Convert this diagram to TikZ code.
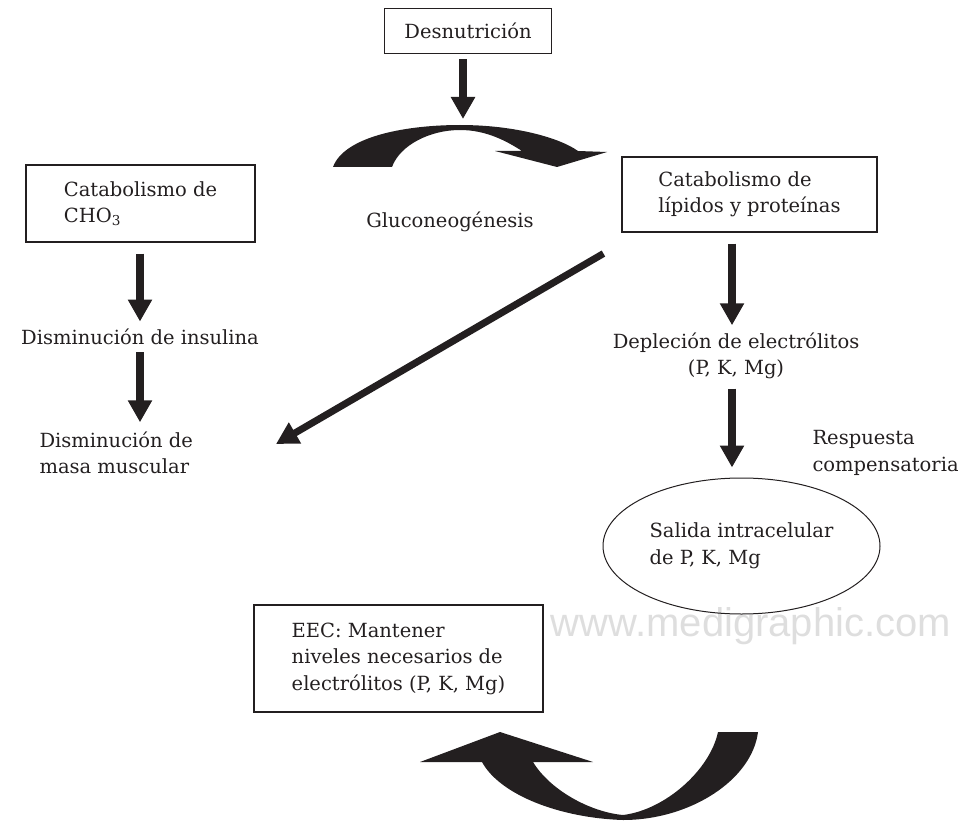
\documentclass[tikz,border=0pt]{standalone}
\usepackage{fontspec}
\setmainfont{DejaVu Serif}
\setsansfont{Liberation Sans}
\usetikzlibrary{positioning,arrows.meta,shapes.geometric}
\definecolor{myblack}{RGB}{35,31,32}
\definecolor{wmgray}{gray}{0.87}

\begin{document}
\begin{tikzpicture}[x=1pt,y=-1pt,
  box/.style={draw=myblack,line width=1.1pt,rectangle,inner sep=0pt},
  txt/.style={font=\fontsize{19.5}{26.5}\selectfont,align=left,text=myblack},
  fat/.style={myblack,line width=8pt,-{Triangle[length=22pt,width=23pt]}}]

\useasboundingbox (0,0) rectangle (958,821);

% watermark
\node[font=\sffamily\fontsize{40}{40}\selectfont,text=wmgray] (wm) at (751,626) {www.medigraphic.com};

% nodes
\node[box,txt,minimum width=167pt,minimum height=45pt] (desnu) at (468,31) {Desnutrición};
\node[box,txt,minimum width=229pt,minimum height=77pt] (cho) at (140.5,203.5) {Catabolismo de\\CHO\textsubscript{3}};
\node[box,txt,minimum width=255pt,minimum height=75pt] (lipidos) at (749.5,194.5) {Catabolismo de\\lípidos y proteínas};
\node[txt] (gluco) at (450,222) {Gluconeogénesis};
\node[txt] (insulina) at (140,337) {Disminución de insulina};
\node[txt,anchor=west] (masa) at (36,453) {Disminución de\\masa muscular};
\node[txt,align=center] (deplecion) at (736,356) {Depleción de electrólitos\\(P, K, Mg)};
\node[txt,anchor=west] (respuesta) at (809,453) {Respuesta\\compensatoria};
\node[ellipse,draw=myblack,line width=1pt,minimum width=277pt,minimum height=136pt,txt] (salida) at (741.5,546) {Salida intracelular\\de P, K, Mg};
\node[box,txt,minimum width=289pt,minimum height=107pt] (eec) at (398.5,658.5) {EEC: Mantener\\niveles necesarios de\\electrólitos (P, K, Mg)};

\coordinate (glutop) at (463,119);
\coordinate (diagtip) at (276,444);

% arrows
\draw[fat] ([xshift=-5pt,yshift=-5pt]desnu.south) -- (glutop);
\draw[fat,shorten <=11pt,shorten >=4pt] (cho.south -| insulina.north) -- (insulina.north);
\draw[fat,shorten <=4pt,shorten >=6pt] (insulina.south) -- (insulina.south |- masa.north);
\draw[fat,shorten <=11pt,shorten >=4pt] ([xshift=-4pt]deplecion.north |- lipidos.south) -- ([xshift=-4pt]deplecion.north);
\draw[fat,shorten <=6pt,shorten >=10pt] ([xshift=-4pt]deplecion.south) -- ([xshift=-4pt]deplecion.south |- salida.north);
\draw[fat,line width=7pt] ([shift={(-18,21)}]lipidos.south west) -- (diagtip);

% curved arrows
\fill[myblack] (333,167) .. controls (345,135) and (410,125) .. (460,125)
  .. controls (515,125) and (560,138) .. (578,151)
  -- (607,152) -- (557,167) -- (495,151) -- (522,151)
  .. controls (505,140) and (485,130) .. (460,130)
  .. controls (430,130) and (400,145) .. (392,167) -- cycle;
\fill[myblack] (500,732) -- (593,762) -- (533,762)
  .. controls (550,790) and (590,812) .. (623,815)
  .. controls (665,810) and (710,770) .. (718,732)
  -- (758,732)
  .. controls (752,780) and (690,820) .. (623,820)
  .. controls (560,818) and (500,795) .. (482,762)
  -- (420,762) -- cycle;

\end{tikzpicture}
\end{document}
